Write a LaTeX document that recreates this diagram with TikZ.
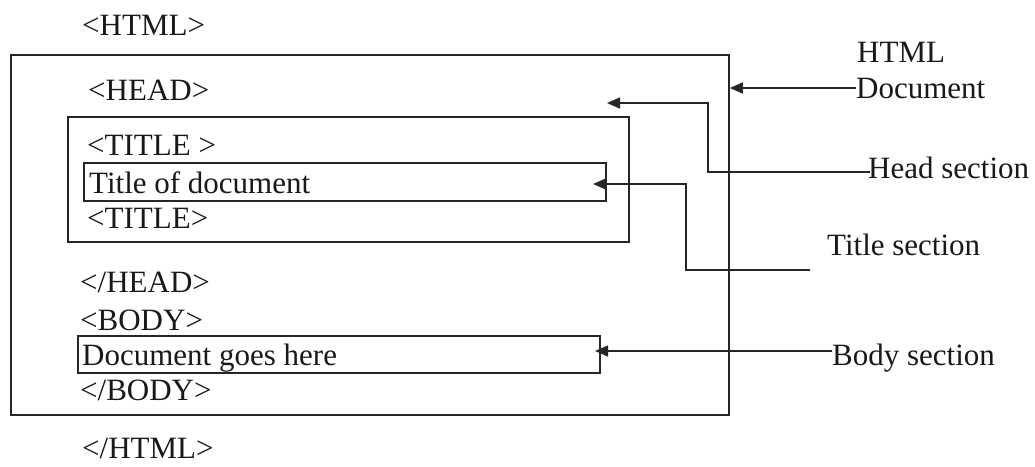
\documentclass[tikz,border=0pt]{standalone}
\usepackage{fontspec}
\setmainfont{Liberation Serif}
\usetikzlibrary{arrows.meta}
\begin{document}
\begin{tikzpicture}[x=1pt,y=-1pt,
  lbl/.style={anchor=base west, inner sep=0pt, font=\fontsize{31}{37}\selectfont, text=black!90},
  box/.style={draw=black!85, line width=1.8pt, inner sep=0pt, anchor=north west},
  conn/.style={draw=black!85, line width=1.6pt},
  arr/.style={conn, -{Triangle[length=13pt,width=11pt]}}]
\useasboundingbox (0,0) rectangle (1035,466);
\fill[white] (0,0) rectangle (1035,466);
% boxes
\node[box, minimum width=718pt, minimum height=360pt] (outer) at (10,54) {};
\node[box, minimum width=561pt, minimum height=125pt] (headbox) at (67,116) {};
\node[box, minimum width=522pt, minimum height=38pt] (titlebox) at (83,162) {};
\node[box, minimum width=522pt, minimum height=37pt] (bodybox) at (77,335) {};
% code text
\node[lbl] (thtml) at (82,35) {<HTML>};
\node[lbl] (thead) at (88,100) {<HEAD>};
\node[lbl] (ttitle) at (87,155) {<TITLE >};
\node[lbl] (ttext) at (89,193) {Title of document};
\node[lbl] (ttitle2) at (87,228) {<TITLE>};
\node[lbl] (tehead) at (80,292) {</HEAD>};
\node[lbl] (tbody) at (80,330) {<BODY>};
\node[lbl] (tbtext) at (82,365) {Document goes here};
\node[lbl] (tebody) at (80,400) {</BODY>};
\node[lbl] (tehtml) at (82,458) {</HTML>};
% labels
\node[lbl] (lhtml) at (857,62) {HTML};
\node[lbl] (ldoc) at (856,98) {Document};
\node[lbl] (lhead) at (868,178) {Head section};
\node[lbl] (ltitle) at (827,255) {Title section};
\node[lbl] (lbody) at (832,365) {Body section};
% connector points
\coordinate (docend) at (856,88);
\coordinate (headend) at (870,172);
\coordinate (headbend) at (708,103);
\coordinate (headtip) at (607,103);
\coordinate (titleend) at (810,270);
\coordinate (titlebend) at (686,184);
\coordinate (titletip) at (593,184);
\coordinate (bodyend) at (832,351);
\coordinate (bodytip) at (595,351);
% connectors
\draw[arr] (docend) -- (docend -| outer.east);
\draw[arr] (headend) -| (headbend) -- (headtip);
\draw[arr] (titleend) -| (titlebend) -- (titletip);
\draw[arr] (bodyend) -- (bodytip);
\end{tikzpicture}
\end{document}
